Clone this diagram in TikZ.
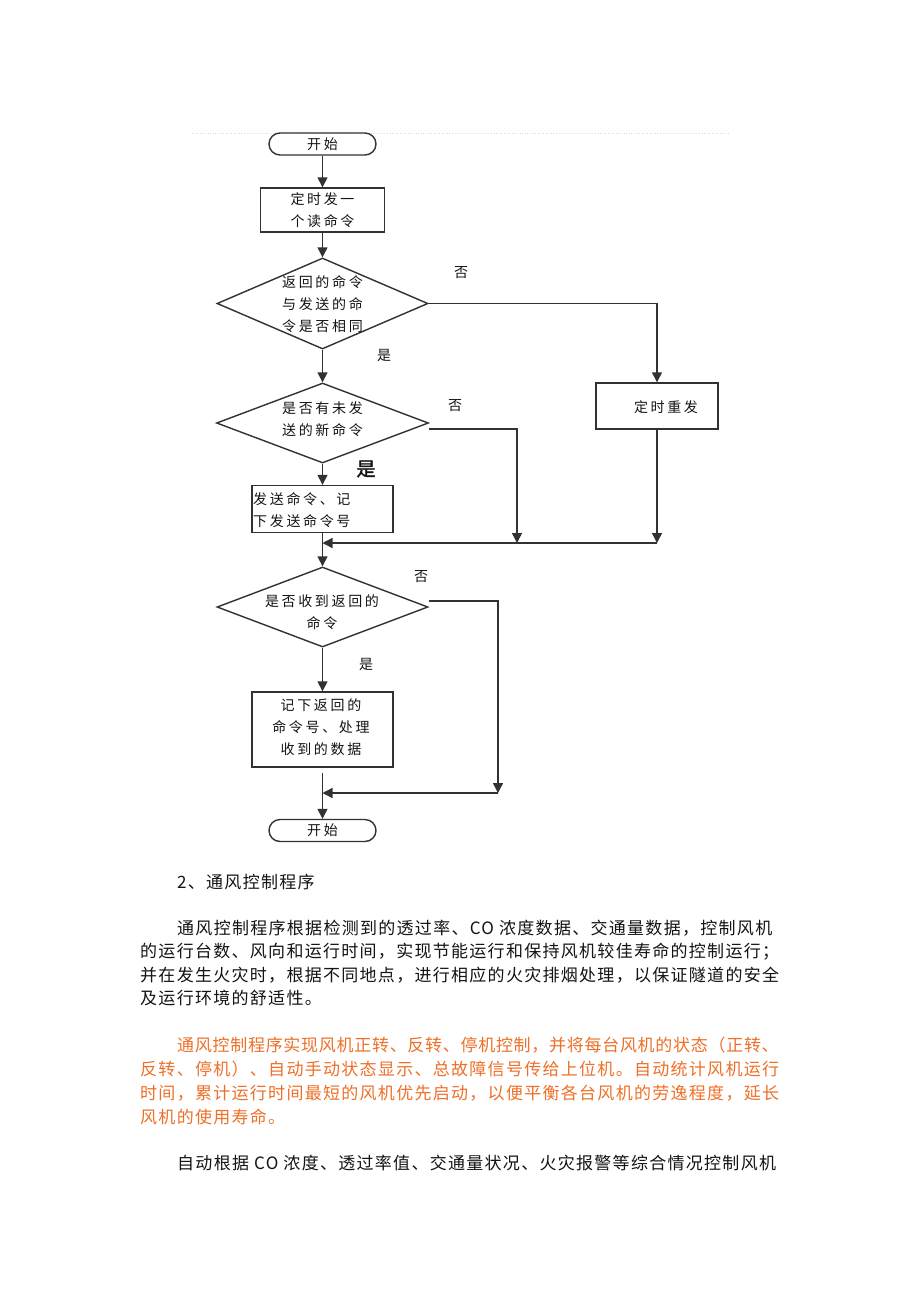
\documentclass[tikz,border=0pt]{standalone}
\usepackage{fontspec}
\setmainfont{Noto Sans CJK SC}
\newfontfamily\fcjk[LetterSpace=19]{Noto Sans CJK SC}
\newfontfamily\bodycjk[LetterSpace=7.6]{Noto Sans CJK SC}
\newfontfamily\bodycjkn[LetterSpace=4.2]{Noto Sans CJK SC}
\newfontfamily\boldcjk[FakeBold=2]{Noto Sans CJK SC}
\usetikzlibrary{shapes.geometric,arrows.meta,calc}
\definecolor{ln}{RGB}{50,50,50}
\definecolor{org}{RGB}{238,112,40}
\definecolor{txt}{RGB}{20,20,20}
\tikzset{
  fc/.style={font=\fcjk\fontsize{14}{22}\selectfont, align=center, inner sep=0pt, text=txt},
  term/.style={draw=ln, line width=1.4pt, rounded corners=11pt, minimum width=107pt, minimum height=22pt, inner sep=0pt, fc},
  box/.style={draw=ln, line width=1.4pt, inner sep=0pt, fc},
  dia/.style={draw=ln, line width=1.4pt, diamond, inner sep=0pt},
  lab/.style={font=\fcjk\fontsize{14}{14}\selectfont, inner sep=0pt, text=txt},
  arr/.style={draw=ln, line width=1.4pt, -{Triangle[width=10pt,length=10pt]}},
  body/.style={font=\bodycjk\fontsize{17}{17}\selectfont, inner sep=0pt, anchor=west, text=txt},
  obody/.style={body, text=org}
}
\begin{document}
\begin{tikzpicture}[x=1pt,y=-1pt]
\useasboundingbox[fill=white] (0,0) rectangle (920,1302);
\draw[black!15, dotted, line width=0.6pt] (192,133) -- (728,133);
% flowchart nodes
\node[term] (s) at (322.5,144) {开始};
\node[box, minimum width=124pt, minimum height=44pt] (b1) at (322.5,210) {定时发一\\个读命令};
\node[dia, minimum width=211pt, minimum height=91pt] (d1) at (322.5,303.5) {};
\node[fc] (t1) at (322.5,304.5) {返回的命令\\与发送的命\\令是否相同};
\node[dia, minimum width=212pt, minimum height=80pt] (d2) at (322.5,423) {};
\node[fc] (t2) at (322.5,419) {是否有未发\\送的新命令};
\node[box, minimum width=122pt, minimum height=46pt] (b2) at (657,406) {};
\node[fc] (t3) at (666,407) {定时重发};
\node[box, minimum width=141pt, minimum height=47pt] (b3) at (322.5,509) {};
\node[fc, anchor=west, align=left] (t4) at (253,510.5) {发送命令、记\\下发送命令号};
\node[dia, minimum width=211pt, minimum height=80pt] (d3) at (322.5,607) {};
\node[fc] (t5) at (322,612.5) {是否收到返回的\\命令};
\node[box, minimum width=141pt, minimum height=75pt] (b4) at (322.5,729.5) {};
\node[fc] (t6) at (321,727) {记下返回的\\命令号、处理\\收到的数据};
\node[term] (e) at (322.5,830.5) {开始};
% junctions
\coordinate (m1) at (322.5,543);
\coordinate (j1) at (517,543);
\coordinate (j2) at (b2.south |- m1);
\coordinate (j3) at (498,793);
\coordinate (m2) at (322.5,793);
% connectors
\draw[arr] (s) -- (b1);
\draw[arr] (b1) -- (d1);
\draw[arr] (d1.east) -| (b2.north);
\draw[arr] (d1) -- (d2);
\draw[arr] (d2) -- (b3);
\draw[arr] ([yshift=-6pt]d2.east) -| (j1);
\draw[arr] (b2) -- (j2);
\draw[arr] (j2) -- (m1);
\draw[arr] (b3) -- (d3);
\draw[arr] ([yshift=6pt]d3.east) -| (j3);
\draw[arr] (j3) -- (m2);
\draw[arr] (d3) -- (b4);
\draw[arr, shorten <=5pt] (b4) -- (e);
% labels
\node[lab] (n1) at (461,273) {否};
\node[lab] (y1) at (384,355) {是};
\node[lab] (n2) at (455,406) {否};
\node[font=\boldcjk\fontsize{19}{19}\selectfont, inner sep=0pt, text=txt] (y2) at (366,469) {是};
\node[lab] (n3) at (421,577) {否};
\node[lab] (y3) at (366,664) {是};
% body text
\node[body] (h) at (177,882) {2、通风控制程序};
\node[body] (p11) at (177,928) {通风控制程序根据检测到的透过率、CO 浓度数据、交通量数据，控制风机};
\node[body] (p12) at (140,951.5) {的运行台数、风向和运行时间，实现节能运行和保持风机较佳寿命的控制运行；};
\node[body] (p13) at (140,975) {并在发生火灾时，根据不同地点，进行相应的火灾排烟处理，以保证隧道的安全};
\node[body] (p14) at (140,998.5) {及运行环境的舒适性。};
\node[obody, font=\bodycjkn\fontsize{17}{17}\selectfont] (p21) at (177,1045) {通风控制程序实现风机正转、反转、停机控制，并将每台风机的状态（正转、};
\node[obody] (p22) at (140,1069) {反转、停机）、自动手动状态显示、总故障信号传给上位机。自动统计风机运行};
\node[obody] (p23) at (140,1093) {时间，累计运行时间最短的风机优先启动，以便平衡各台风机的劳逸程度，延长};
\node[obody] (p24) at (140,1117) {风机的使用寿命。};
\node[body] (p31) at (177,1163) {自动根据 CO 浓度、透过率值、交通量状况、火灾报警等综合情况控制风机};
\end{tikzpicture}
\end{document}
